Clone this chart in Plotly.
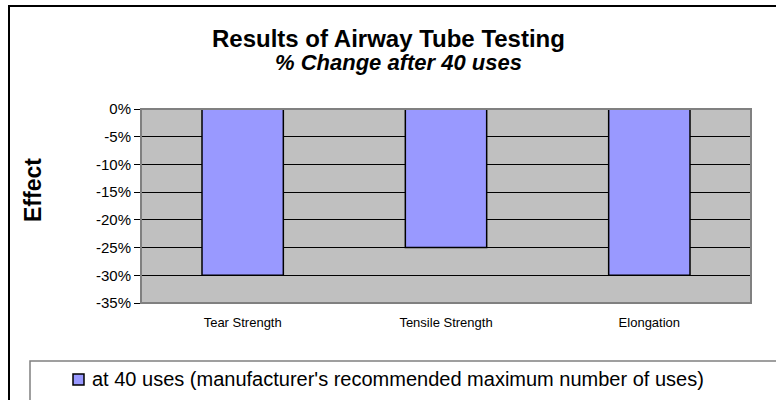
import plotly.graph_objects as go

categories = ["Tear Strength", "Tensile Strength", "Elongation"]
values = [-0.30, -0.25, -0.30]
series_name = "at 40 uses (manufacturer's recommended maximum number of uses)"
tick_vals = [0, -0.05, -0.10, -0.15, -0.20, -0.25, -0.30, -0.35]
tick_text = ["0%", "-5%", "-10%", "-15%", "-20%", "-25%", "-30%", "-35%"]

BAR_COLOR = "#9999FF"
W, H = 776, 400
L, R, T, B = 141, 25, 109, 97
pw, ph = W - L - R, H - T - B

def px(x):
    return (x - L) / pw

def py(y):
    return (H - B - y) / ph

fig = go.Figure()
fig.add_trace(go.Bar(
    x=categories, y=values, name=series_name,
    marker=dict(color=BAR_COLOR, line=dict(color="black", width=1.5)),
    width=0.4, showlegend=False,
))

fig.update_layout(
    width=W, height=H,
    margin=dict(l=L, r=R, t=T, b=B),
    paper_bgcolor="white",
    plot_bgcolor="#C0C0C0",
    font=dict(family="Liberation Sans, Arial", color="black"),
    showlegend=False,
    annotations=[
        dict(text="<b>Results of Airway Tube Testing</b>", x=px(388), y=py(39),
             xref="paper", yref="paper", showarrow=False, font=dict(size=24),
             xanchor="center", yanchor="middle"),
        dict(text="<b><i>% Change after 40 uses</i></b>", x=px(398), y=py(63),
             xref="paper", yref="paper", showarrow=False, font=dict(size=22),
             xanchor="center", yanchor="middle"),
        dict(text="<b>Effect</b>", x=px(33), y=py(190), xref="paper", yref="paper",
             showarrow=False, textangle=-90, font=dict(size=23),
             xanchor="center", yanchor="middle"),
        dict(text=series_name, x=px(90), y=py(379), xref="paper", yref="paper",
             showarrow=False, font=dict(size=20),
             xanchor="left", yanchor="middle"),
    ],
    shapes=[
        dict(type="rect", xref="paper", yref="paper",
             x0=px(9), x1=px(790), y0=py(6), y1=py(420),
             line=dict(color="black", width=2), layer="below"),
        dict(type="rect", xref="paper", yref="paper",
             x0=px(30), x1=px(790), y0=py(361), y1=py(420),
             line=dict(color="#808080", width=1.5), layer="below"),
        dict(type="rect", xref="paper", yref="paper", x0=0, x1=1, y0=0, y1=1,
             line=dict(color="#808080", width=2)),
        dict(type="rect", xref="paper", yref="paper",
             x0=px(73), x1=px(84), y0=py(374), y1=py(385),
             fillcolor=BAR_COLOR, line=dict(color="black", width=1.5)),
    ],
)

fig.update_xaxes(showgrid=False, ticks="", tickfont=dict(size=13), showline=False,
                 ticklabelstandoff=10)
fig.update_yaxes(range=[-0.35, 0], tickvals=tick_vals, ticktext=tick_text,
                 showgrid=True, gridcolor="black", gridwidth=1,
                 ticks="outside", ticklen=6, tickcolor="black",
                 tickfont=dict(size=15), zeroline=False, showline=False)

fig.write_html("out.html", config={"displayModeBar": False},
               post_script="document.body.style.margin='0';document.body.style.overflow='hidden';")
